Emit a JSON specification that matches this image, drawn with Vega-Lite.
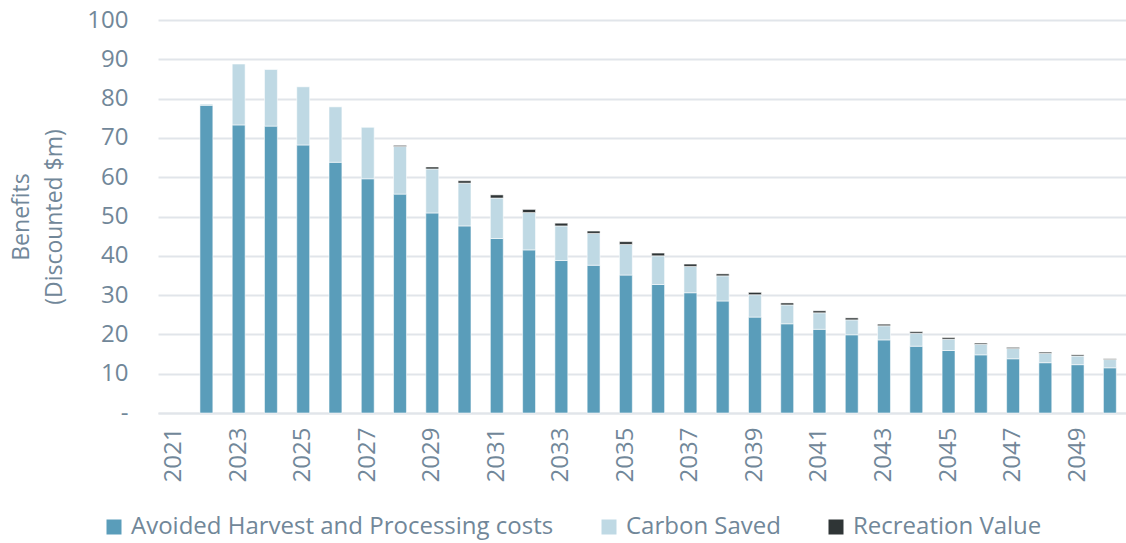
{
  "$schema": "https://vega.github.io/schema/vega-lite/v6.json",
  "width": 968,
  "height": 393,
  "autosize": {"type": "none"},
  "padding": {"left": 158, "top": 20, "right": 0, "bottom": 130},
  "background": "white",
  "config": {
    "font": "Open Sans",
    "view": {"stroke": null},
    "axis": {"labelColor": "#718799", "titleColor": "#718799", "labelFont": "Open Sans", "titleFont": "Open Sans"},
    "legend": {"labelColor": "#718799", "labelFont": "Open Sans"}
  },
  "datasets": {
    "benefits": [
      {"year": 2022, "component": "Avoided Harvest and Processing costs", "k": 1, "value": 78.3},
      {"year": 2022, "component": "Carbon Saved", "k": 2, "value": 0.3},
      {"year": 2023, "component": "Avoided Harvest and Processing costs", "k": 1, "value": 73.3},
      {"year": 2023, "component": "Carbon Saved", "k": 2, "value": 15.5},
      {"year": 2024, "component": "Avoided Harvest and Processing costs", "k": 1, "value": 73.0},
      {"year": 2024, "component": "Carbon Saved", "k": 2, "value": 14.4},
      {"year": 2025, "component": "Avoided Harvest and Processing costs", "k": 1, "value": 68.2},
      {"year": 2025, "component": "Carbon Saved", "k": 2, "value": 14.8},
      {"year": 2026, "component": "Avoided Harvest and Processing costs", "k": 1, "value": 63.8},
      {"year": 2026, "component": "Carbon Saved", "k": 2, "value": 14.1},
      {"year": 2027, "component": "Avoided Harvest and Processing costs", "k": 1, "value": 59.6},
      {"year": 2027, "component": "Carbon Saved", "k": 2, "value": 13.1},
      {"year": 2028, "component": "Avoided Harvest and Processing costs", "k": 1, "value": 55.7},
      {"year": 2028, "component": "Carbon Saved", "k": 2, "value": 12.1},
      {"year": 2028, "component": "Recreation Value", "k": 3, "value": 0.3},
      {"year": 2029, "component": "Avoided Harvest and Processing costs", "k": 1, "value": 50.9},
      {"year": 2029, "component": "Carbon Saved", "k": 2, "value": 11.2},
      {"year": 2029, "component": "Recreation Value", "k": 3, "value": 0.5},
      {"year": 2030, "component": "Avoided Harvest and Processing costs", "k": 1, "value": 47.6},
      {"year": 2030, "component": "Carbon Saved", "k": 2, "value": 10.9},
      {"year": 2030, "component": "Recreation Value", "k": 3, "value": 0.6},
      {"year": 2031, "component": "Avoided Harvest and Processing costs", "k": 1, "value": 44.4},
      {"year": 2031, "component": "Carbon Saved", "k": 2, "value": 10.3},
      {"year": 2031, "component": "Recreation Value", "k": 3, "value": 0.8},
      {"year": 2032, "component": "Avoided Harvest and Processing costs", "k": 1, "value": 41.5},
      {"year": 2032, "component": "Carbon Saved", "k": 2, "value": 9.5},
      {"year": 2032, "component": "Recreation Value", "k": 3, "value": 0.8},
      {"year": 2033, "component": "Avoided Harvest and Processing costs", "k": 1, "value": 38.8},
      {"year": 2033, "component": "Carbon Saved", "k": 2, "value": 8.8},
      {"year": 2033, "component": "Recreation Value", "k": 3, "value": 0.7},
      {"year": 2034, "component": "Avoided Harvest and Processing costs", "k": 1, "value": 37.6},
      {"year": 2034, "component": "Carbon Saved", "k": 2, "value": 8.1},
      {"year": 2034, "component": "Recreation Value", "k": 3, "value": 0.6},
      {"year": 2035, "component": "Avoided Harvest and Processing costs", "k": 1, "value": 35.1},
      {"year": 2035, "component": "Carbon Saved", "k": 2, "value": 7.8},
      {"year": 2035, "component": "Recreation Value", "k": 3, "value": 0.7},
      {"year": 2036, "component": "Avoided Harvest and Processing costs", "k": 1, "value": 32.7},
      {"year": 2036, "component": "Carbon Saved", "k": 2, "value": 7.3},
      {"year": 2036, "component": "Recreation Value", "k": 3, "value": 0.7},
      {"year": 2037, "component": "Avoided Harvest and Processing costs", "k": 1, "value": 30.6},
      {"year": 2037, "component": "Carbon Saved", "k": 2, "value": 6.7},
      {"year": 2037, "component": "Recreation Value", "k": 3, "value": 0.6},
      {"year": 2038, "component": "Avoided Harvest and Processing costs", "k": 1, "value": 28.5},
      {"year": 2038, "component": "Carbon Saved", "k": 2, "value": 6.4},
      {"year": 2038, "component": "Recreation Value", "k": 3, "value": 0.5},
      {"year": 2039, "component": "Avoided Harvest and Processing costs", "k": 1, "value": 24.4},
      {"year": 2039, "component": "Carbon Saved", "k": 2, "value": 5.7},
      {"year": 2039, "component": "Recreation Value", "k": 3, "value": 0.6},
      {"year": 2040, "component": "Avoided Harvest and Processing costs", "k": 1, "value": 22.7},
      {"year": 2040, "component": "Carbon Saved", "k": 2, "value": 4.8},
      {"year": 2040, "component": "Recreation Value", "k": 3, "value": 0.5},
      {"year": 2041, "component": "Avoided Harvest and Processing costs", "k": 1, "value": 21.3},
      {"year": 2041, "component": "Carbon Saved", "k": 2, "value": 4.2},
      {"year": 2041, "component": "Recreation Value", "k": 3, "value": 0.5},
      {"year": 2042, "component": "Avoided Harvest and Processing costs", "k": 1, "value": 19.9},
      {"year": 2042, "component": "Carbon Saved", "k": 2, "value": 3.8},
      {"year": 2042, "component": "Recreation Value", "k": 3, "value": 0.5},
      {"year": 2043, "component": "Avoided Harvest and Processing costs", "k": 1, "value": 18.6},
      {"year": 2043, "component": "Carbon Saved", "k": 2, "value": 3.6},
      {"year": 2043, "component": "Recreation Value", "k": 3, "value": 0.4},
      {"year": 2044, "component": "Avoided Harvest and Processing costs", "k": 1, "value": 17.0},
      {"year": 2044, "component": "Carbon Saved", "k": 2, "value": 3.3},
      {"year": 2044, "component": "Recreation Value", "k": 3, "value": 0.4},
      {"year": 2045, "component": "Avoided Harvest and Processing costs", "k": 1, "value": 15.9},
      {"year": 2045, "component": "Carbon Saved", "k": 2, "value": 2.9},
      {"year": 2045, "component": "Recreation Value", "k": 3, "value": 0.4},
      {"year": 2046, "component": "Avoided Harvest and Processing costs", "k": 1, "value": 14.8},
      {"year": 2046, "component": "Carbon Saved", "k": 2, "value": 2.7},
      {"year": 2046, "component": "Recreation Value", "k": 3, "value": 0.3},
      {"year": 2047, "component": "Avoided Harvest and Processing costs", "k": 1, "value": 13.8},
      {"year": 2047, "component": "Carbon Saved", "k": 2, "value": 2.6},
      {"year": 2047, "component": "Recreation Value", "k": 3, "value": 0.3},
      {"year": 2048, "component": "Avoided Harvest and Processing costs", "k": 1, "value": 12.8},
      {"year": 2048, "component": "Carbon Saved", "k": 2, "value": 2.4},
      {"year": 2048, "component": "Recreation Value", "k": 3, "value": 0.3},
      {"year": 2049, "component": "Avoided Harvest and Processing costs", "k": 1, "value": 12.3},
      {"year": 2049, "component": "Carbon Saved", "k": 2, "value": 2.2},
      {"year": 2049, "component": "Recreation Value", "k": 3, "value": 0.3},
      {"year": 2050, "component": "Avoided Harvest and Processing costs", "k": 1, "value": 11.5},
      {"year": 2050, "component": "Carbon Saved", "k": 2, "value": 2.1},
      {"year": 2050, "component": "Recreation Value", "k": 3, "value": 0.2}
    ]
  },
  "data": {"name": "benefits"},
  "mark": {"type": "bar", "stroke": "white", "strokeWidth": 0.8, "strokeOpacity": 0.7},
  "encoding": {
    "x": {
      "field": "year",
      "type": "ordinal",
      "scale": {
        "domain": [2021, 2022, 2023, 2024, 2025, 2026, 2027, 2028, 2029, 2030, 2031, 2032, 2033, 2034, 2035, 2036, 2037, 2038, 2039, 2040, 2041, 2042, 2043, 2044, 2045, 2046, 2047, 2048, 2049, 2050],
        "paddingInner": 0.6,
        "paddingOuter": 0.3
      },
      "axis": {
        "title": null,
        "values": [2021, 2023, 2025, 2027, 2029, 2031, 2033, 2035, 2037, 2039, 2041, 2043, 2045, 2047, 2049],
        "labelAngle": -90,
        "labelAlign": "right",
        "labelBaseline": "middle",
        "labelFontSize": 24,
        "labelPadding": 14,
        "ticks": false,
        "domainColor": "#e1e5ea",
        "domainWidth": 2,
        "grid": false
      }
    },
    "y": {
      "field": "value",
      "type": "quantitative",
      "stack": "zero",
      "scale": {"domain": [0, 100], "nice": false},
      "axis": {
        "title": ["Benefits", "(Discounted $m)"],
        "titleFontSize": 23,
        "titleFontWeight": "normal",
        "titleLineHeight": 33,
        "titlePadding": 20,
        "values": [0, 10, 20, 30, 40, 50, 60, 70, 80, 90, 100],
        "labelExpr": "datum.value === 0 ? '-' : datum.label",
        "labelFontSize": 24,
        "labelPadding": 30,
        "ticks": false,
        "domain": false,
        "grid": true,
        "gridColor": "#e1e5ea",
        "gridWidth": 2
      }
    },
    "color": {
      "field": "component",
      "type": "nominal",
      "scale": {
        "domain": ["Avoided Harvest and Processing costs", "Carbon Saved", "Recreation Value"],
        "range": ["#5a9dba", "#bfd9e4", "#2f3536"]
      },
      "legend": {
        "title": null,
        "orient": "none",
        "direction": "horizontal",
        "legendX": -56,
        "legendY": 495,
        "symbolType": "square",
        "symbolSize": 225,
        "symbolStrokeWidth": 0,
        "labelFontSize": 24,
        "labelLimit": 0,
        "labelOffset": 5,
        "columnPadding": 43
      }
    },
    "order": {"field": "k", "type": "quantitative"}
  }
}
